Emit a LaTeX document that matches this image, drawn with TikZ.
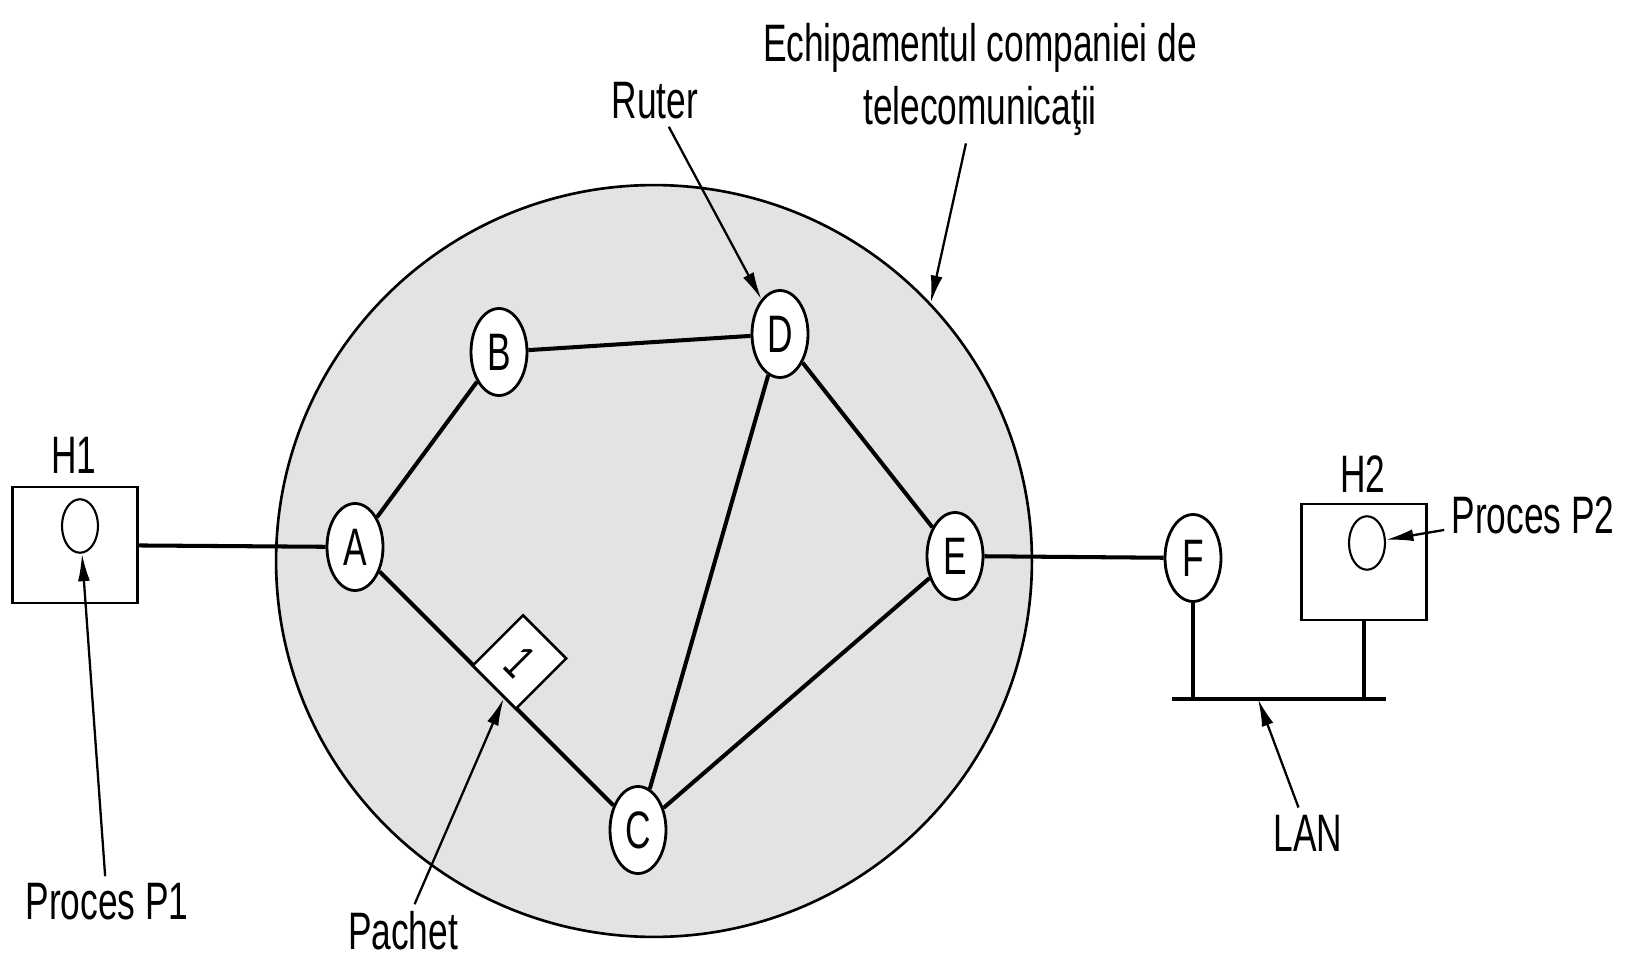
\documentclass[tikz,border=0pt]{standalone}
\usepackage{fontspec}
\setmainfont{Liberation Sans}[FakeStretch=0.67]
\usetikzlibrary{shapes.geometric,arrows.meta}

\begin{document}
\begin{tikzpicture}[
        x=0.02cm, y=-0.02cm,
        router/.style={draw, ellipse, fill=white, line width=1.6pt, minimum width=1.12cm, minimum height=1.74cm, inner sep=0pt, font=\fontsize{30}{36}\selectfont},
        host/.style={draw, rectangle, fill=white, line width=1.4pt, minimum width=2.5cm, minimum height=2.32cm},
        proc/.style={draw, ellipse, line width=1.2pt, minimum width=0.72cm, minimum height=1.07cm, inner sep=0pt},
        pkt/.style={draw, rectangle, fill=white, line width=1.5pt, minimum width=1.22cm, minimum height=1.42cm, inner sep=0pt, font=\fontsize{28}{32}\selectfont},
        txt/.style={inner sep=4pt, font=\fontsize{30}{36}\selectfont},
        link/.style={line width=2.3pt},
        pointer/.style={-{Latex[length=0.55cm,width=0.24cm]}, line width=1.3pt}
    ]
        \useasboundingbox (0,0) rectangle (1633,966);

        % Carrier network
        \node[draw, ellipse, fill=black!11, line width=1.5pt, minimum width=15.12cm, minimum height=15.04cm] (net) at (654,561) {};

        % Routers
        \node[router] (A) at (355,547) {A};
        \node[router] (B) at (499,352) {B};
        \node[router] (D) at (780,334) {D};
        \node[router] (E) at (955,556) {E};
        \node[router] (C) at (638,830) {C};
        \node[router] (F) at (1193,558) {F};

        % Hosts and processes
        \node[host] (H1) at (75,545) {};
        \node[proc] (h1proc) at (80,526) {};
        \node[txt] (h1lbl) at (74,455) {H1};
        \node[host] (H2) at (1364,562) {};
        \node[proc] (h2proc) at (1367,543) {};
        \node[txt] (h2lbl) at (1363,474) {H2};

        % LAN bus
        \coordinate (busL) at (1172,699);
        \coordinate (busR) at (1386,699);
        \coordinate (lanpt) at (1258,699);

        % Links
        \draw[link] (H1) -- (A);
        \draw[link] (A) -- (B);
        \draw[link] (B) -- (D);
        \draw[link] (D) -- (E);
        \draw[link] (D) -- (C);
        \draw[link] (A) -- (C);
        \draw[link] (C) -- (E);
        \draw[link] (E) -- (F);
        \draw[line width=2.6pt] (busL) -- (busR);
        \draw[link] (F) -- (F |- busL);
        \draw[link] (H2) -- (H2 |- busL);

        % Packet on the A-C line
        \node[pkt, rotate=-45] (packet) at (519.5,662) {1};

        % Labels
        \node[txt] (rtlbl) at (655,101) {Ruter};
        \node[txt, anchor=north, align=center] (eqlbl) at (980,16) {Echipamentul companiei de\\telecomunicaţii};
        \node[txt] (p1lbl) at (107,902) {Proces P1};
        \node[txt] (pclbl) at (403,931) {Pachet};
        \node[txt] (p2lbl) at (1533,515) {Proces P2};
        \node[txt] (lanlbl) at (1308,833) {LAN};

        % Pointers
        \draw[pointer] (rtlbl) -- (D);
        \draw[pointer] (eqlbl) -- (net.43);
        \draw[pointer] (p1lbl) -- (h1proc);
        \draw[pointer] (pclbl) -- (packet);
        \draw[pointer] (p2lbl) -- (h2proc);
        \draw[pointer] (lanlbl) -- (lanpt);
    \end{tikzpicture}
\end{document}
